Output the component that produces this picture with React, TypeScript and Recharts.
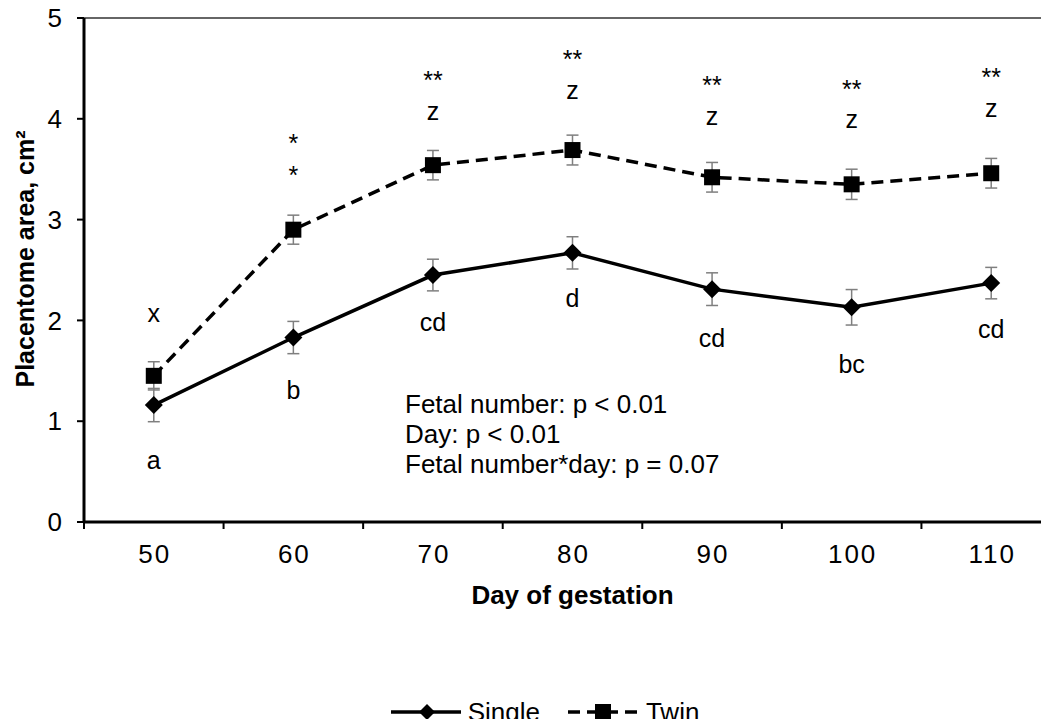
import React from 'react';
import {
  LineChart,
  Line,
  XAxis,
  YAxis,
  ErrorBar,
  ReferenceLine,
  ReferenceDot,
  Legend,
} from 'recharts';

const days = [50, 60, 70, 80, 90, 100, 110];
const dayBounds = [45, 55, 65, 75, 85, 95, 105, 115];
const single = [1.16, 1.83, 2.45, 2.67, 2.31, 2.13, 2.37];
const singleErr = [0.165, 0.16, 0.157, 0.16, 0.162, 0.176, 0.156];
const twin = [1.45, 2.9, 3.54, 3.69, 3.42, 3.35, 3.46];
const twinErr = [0.14, 0.144, 0.146, 0.148, 0.147, 0.15, 0.147];
const yTicks = [0, 1, 2, 3, 4, 5];

// letters under the Single points, letters and stars over the Twin points
const singleLetters = ['a', 'b', 'cd', 'd', 'cd', 'bc', 'cd'];
const singleLetterY = [0.615, 1.31, 1.98, 2.22, 1.83, 1.57, 1.915];
const twinLetters = ['x', '*', 'z', 'z', 'z', 'z', 'z'];
const twinLetterY = [2.05, 3.49, 4.06, 4.27, 4.01, 3.98, 4.09];
const stars = ['', '*', '**', '**', '**', '**', '**'];
const starY = [0, 3.81, 4.43, 4.64, 4.38, 4.35, 4.46];

const statLines = [
  'Fetal number: p < 0.01',
  'Day: p < 0.01',
  'Fetal number*day: p = 0.07',
];

const data = days.map((d, i) => ({
  day: d,
  single: single[i],
  singleErr: singleErr[i],
  twin: twin[i],
  twinErr: twinErr[i],
}));

const FONT = '"Liberation Sans", Arial, sans-serif';
const TICKS = [...dayBounds, ...days].sort((a, b) => a - b);

const Diamond = (props: any) => {
  const { cx, cy } = props;
  if (cx == null || cy == null) return null;
  return <polygon points={`${cx},${cy - 9} ${cx + 9},${cy} ${cx},${cy + 9} ${cx - 9},${cy}`} fill="#000" />;
};

const Square = (props: any) => {
  const { cx, cy } = props;
  if (cx == null || cy == null) return null;
  return <rect x={cx - 8} y={cy - 8} width={16} height={16} fill="#000" />;
};

const XTick = (props: any) => {
  const { x, y, payload } = props;
  if (days.includes(payload.value)) {
    return (
      <text x={x + 1} y={y + 32} textAnchor="middle" dominantBaseline="central" fontSize={26} letterSpacing={2} fontFamily={FONT} fill="#000">
        {payload.value}
      </text>
    );
  }
  return <line x1={x} y1={y} x2={x} y2={y + 7} stroke="#000" strokeWidth={2} />;
};

const XTitle = (props: any) => {
  const { x, y, width } = props.viewBox;
  return (
    <text x={x + width / 2} y={y + 73} textAnchor="middle" dominantBaseline="central" fontSize={26} fontWeight="bold" fontFamily={FONT} fill="#000">
      Day of gestation
    </text>
  );
};

const YTitle = (props: any) => {
  const { y, height } = props.viewBox;
  const cx = 25;
  const cy = y + height / 2 - 11;
  return (
    <text x={cx} y={cy} transform={`rotate(-90 ${cx} ${cy})`} textAnchor="middle" dominantBaseline="central" fontSize={25} fontWeight="bold" fontFamily={FONT} fill="#000">
      Placentome area, cm²
    </text>
  );
};

const centerLabel = (value: string, shift = 0) => (props: any) => {
  const { x, y, width, height } = props.viewBox;
  return (
    <text x={x + width / 2} y={y + height / 2 + shift} textAnchor="middle" dominantBaseline="central" fontSize={25} fontFamily={FONT} fill="#000">
      {value}
    </text>
  );
};

const StatsLabel = (props: any) => {
  const { x, y } = props.viewBox;
  return (
    <text x={x} y={y} fontSize={26} fontFamily={FONT} fill="#000">
      {statLines.map((s, i) => (
        <tspan key={i} x={x} dy={i === 0 ? 0 : 30}>
          {s}
        </tspan>
      ))}
    </text>
  );
};

const LegendIcon = ({ dashed }: { dashed: boolean }) => (
  <svg width={70} height={20} style={{ display: 'block' }}>
    <line x1={0} y1={10} x2={70} y2={10} stroke="#000" strokeWidth={3.5} strokeDasharray={dashed ? '12 7' : undefined} />
    {dashed ? (
      <rect x={27} y={2} width={16} height={16} fill="#000" />
    ) : (
      <polygon points="36,2 44,10 36,18 28,10" fill="#000" />
    )}
  </svg>
);

const renderLegend = () => (
  <div
    style={{
      display: 'flex',
      justifyContent: 'center',
      alignItems: 'center',
      height: 30,
      paddingLeft: 41,
      fontFamily: FONT,
      fontSize: 26,
      color: '#000',
    }}
  >
    <LegendIcon dashed={false} />
    <span style={{ marginLeft: 7, marginRight: 28 }}>Single</span>
    <LegendIcon dashed />
    <span style={{ marginLeft: 8 }}>Twin</span>
  </div>
);

export default function App() {
  return (
    <div style={{ margin: -8, width: 1049, height: 727, overflow: 'hidden', position: 'relative', background: '#fff' }}>
      <LineChart width={1090} height={727} data={data} margin={{ top: 18, right: 29, left: 0, bottom: 0 }}>
        <XAxis
          dataKey="day"
          type="number"
          domain={[45, 115]}
          ticks={TICKS}
          interval={0}
          tick={<XTick />}
          tickLine={false}
          tickSize={0}
          tickMargin={0}
          axisLine={{ stroke: '#000', strokeWidth: 3 }}
          height={175}
          label={{ content: <XTitle /> }}
        />
        <YAxis
          type="number"
          domain={[0, 5]}
          ticks={yTicks}
          interval={0}
          width={84}
          tickSize={7}
          tickMargin={15}
          tick={{ fontSize: 26, fill: '#000', fontFamily: FONT }}
          tickLine={{ stroke: '#000', strokeWidth: 2 }}
          axisLine={{ stroke: '#000', strokeWidth: 3 }}
          label={{ content: <YTitle /> }}
        />
        <ReferenceLine y={5} stroke="#333" strokeWidth={1.5} />
        <Legend verticalAlign="bottom" content={renderLegend} wrapperStyle={{ left: 0, width: 1049 }} />
        <Line
          dataKey="single"
          stroke="#000"
          strokeWidth={3.5}
          dot={<Diamond />}
          activeDot={false}
          isAnimationActive={false}
        >
          <ErrorBar dataKey="singleErr" width={6} stroke="#7f7f7f" strokeWidth={1.5} direction="y" isAnimationActive={false} />
        </Line>
        <Line
          dataKey="twin"
          stroke="#000"
          strokeWidth={3.5}
          strokeDasharray="12 7"
          dot={<Square />}
          activeDot={false}
          isAnimationActive={false}
        >
          <ErrorBar dataKey="twinErr" width={6} stroke="#7f7f7f" strokeWidth={1.5} direction="y" isAnimationActive={false} />
        </Line>
        {days.map((d, i) => (
          <ReferenceDot key={`s${d}`} x={d} y={singleLetterY[i]} r={0} fill="none" stroke="none" label={{ content: centerLabel(singleLetters[i]) }} />
        ))}
        {days.map((d, i) => (
          <ReferenceDot
            key={`t${d}`}
            x={d}
            y={twinLetterY[i]}
            r={0}
            fill="none"
            stroke="none"
            label={{ content: centerLabel(twinLetters[i], twinLetters[i] === '*' ? 5 : -2) }}
          />
        ))}
        {days.map((d, i) =>
          stars[i] ? (
            <ReferenceDot key={`st${d}`} x={d} y={starY[i]} r={0} fill="none" stroke="none" label={{ content: centerLabel(stars[i], 5) }} />
          ) : null
        )}
        <ReferenceDot x={68} y={1.08} r={0} fill="none" stroke="none" label={{ content: <StatsLabel /> }} />
      </LineChart>
    </div>
  );
}
